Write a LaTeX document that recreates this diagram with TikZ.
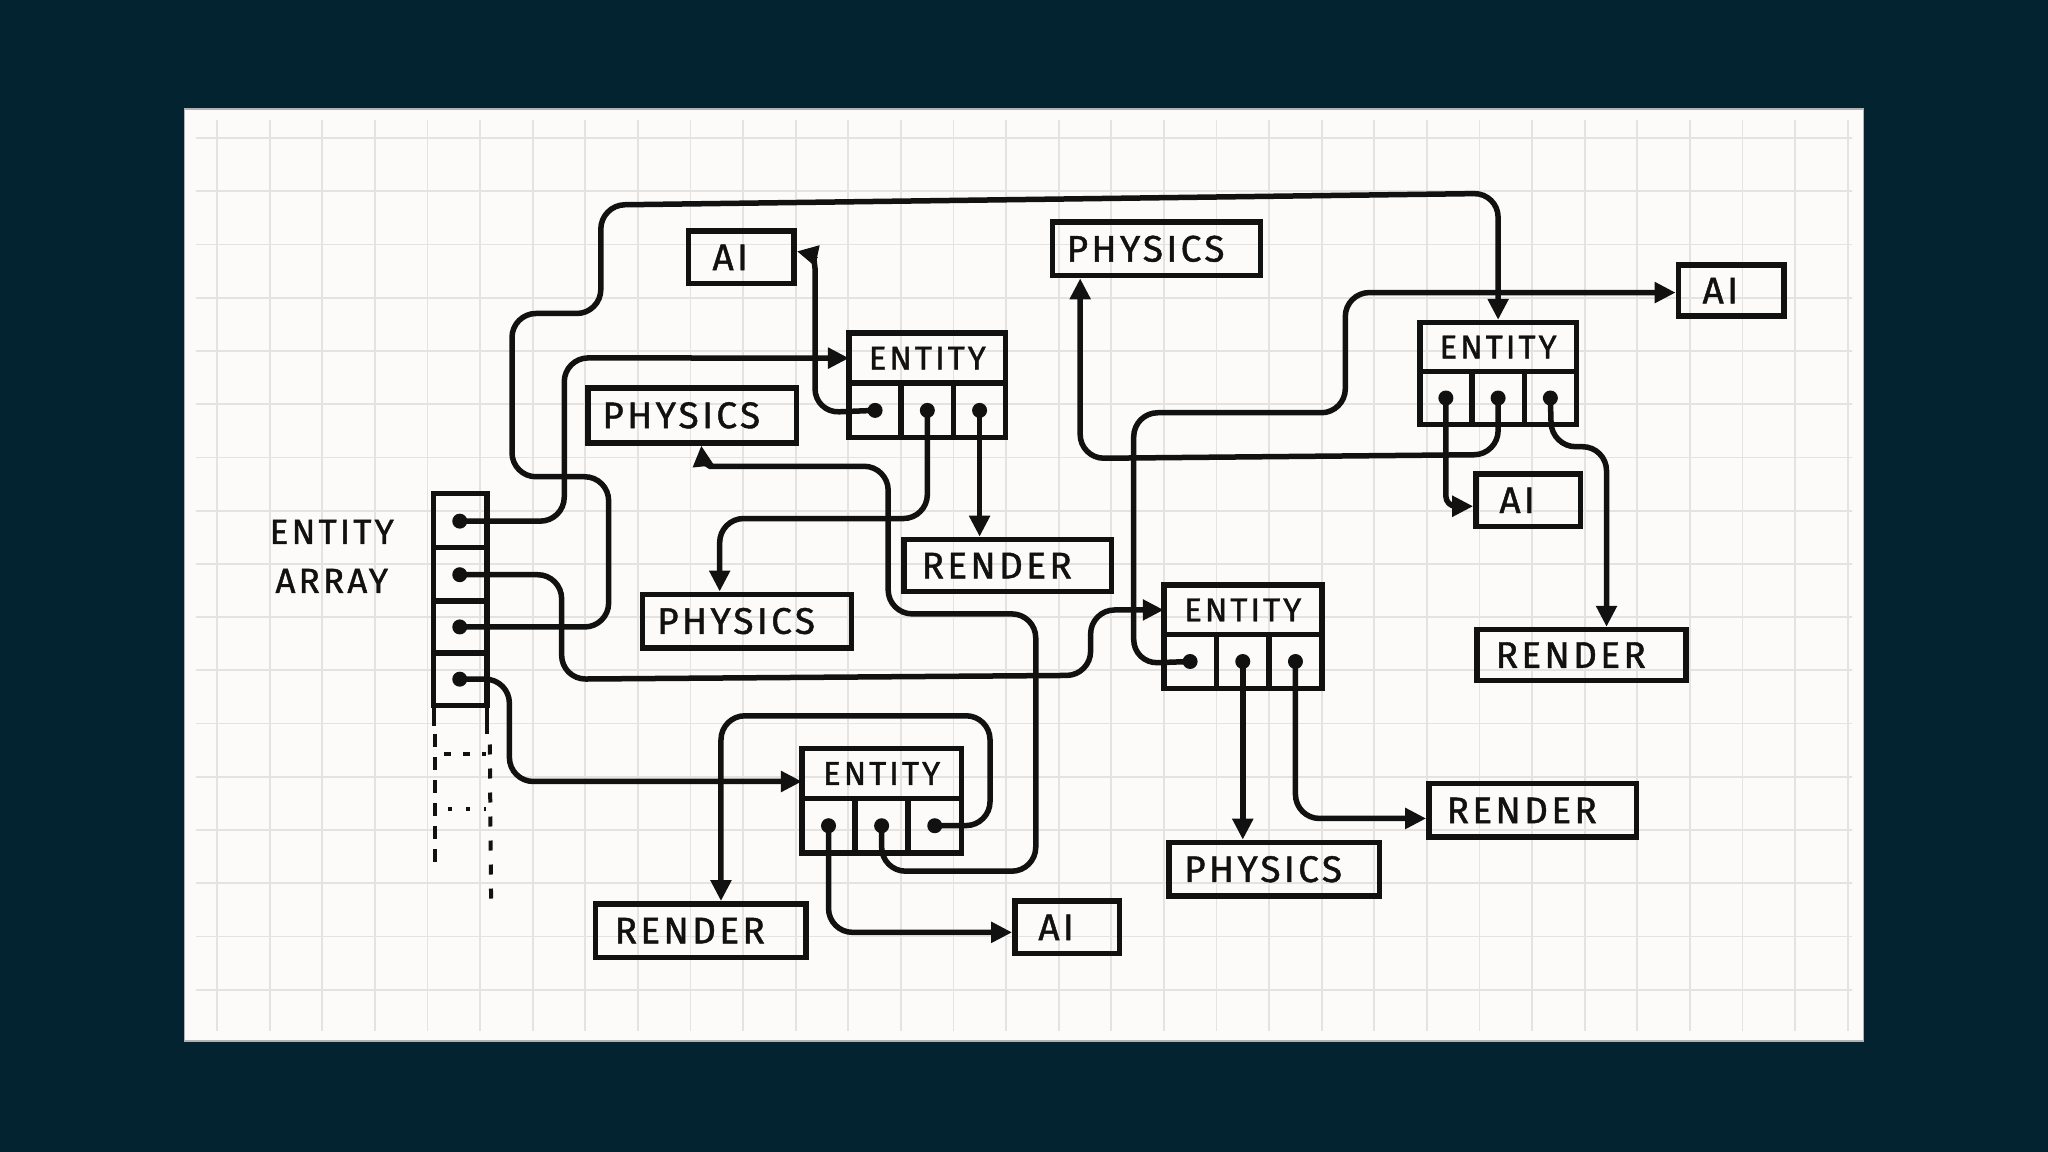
\documentclass[tikz,border=0pt]{standalone}
\usepackage{fontspec}
\newfontfamily\handfont{Fira Sans}[LetterSpace=9,FakeBold=1.2]
\usetikzlibrary{fit,calc,arrows.meta}
\definecolor{bgc}{HTML}{02232F}
\definecolor{paper}{HTML}{FCFBFA}
\definecolor{gridc}{HTML}{E5E2E2}
\definecolor{ink}{HTML}{111111}

\newcommand\labelbox[6]{%
  \node[boxline, inner sep=0pt, fit={(#2,#3)(#4,#5)}] (#1) {};
  \node[lbltext, xshift=-11pt] (#1t) at (#1.center) {#6};
}
\newcommand\entitybox[5]{%
  \node[boxline, inner sep=0pt, fit={(#2,#3)(#4,#5)}] (#1) {};
  \pgfmathsetmacro\ehy{#3+(#5-#3)*0.48}
  \pgfmathsetmacro\exa{#2+(#4-#2)/3}
  \pgfmathsetmacro\exb{#2+2*(#4-#2)/3}
  \pgfmathsetmacro\edy{(\ehy+#5)/2}
  \pgfmathsetmacro\ety{(#3+\ehy)/2}
  \draw[boxline] (#2,\ehy) -- (#4,\ehy) (\exa,\ehy) -- (\exa,#5) (\exb,\ehy) -- (\exb,#5);
  \node[etext] (#1t) at ({(#2+#4)/2},\ety) {ENTITY};
  \coordinate (#1in) at (#2,\ety);
  \node[dot] (#1a) at ({(#2+\exa)/2},\edy) {};
  \node[dot] (#1b) at ({(\exa+\exb)/2},\edy) {};
  \node[dot] (#1c) at ({(\exb+#4)/2},\edy) {};
}

\begin{document}
\begin{tikzpicture}[x=1.306pt,y=-1.306pt,
  boxline/.style={draw=ink, line width=5.5pt},
  lbltext/.style={font=\handfont\fontsize{37}{44}\selectfont, text=ink, inner sep=0pt},
  etext/.style={font=\handfont\fontsize{33}{40}\selectfont, text=ink, inner sep=0pt},
  dot/.style={circle, fill=ink, inner sep=0pt, minimum size=15pt},
  conn/.style={draw=ink, line width=5.5pt, rounded corners=24pt,
    -{Triangle[length=21pt,width=20pt]}},
  dashline/.style={draw=ink, line width=4pt},
]
\useasboundingbox (0,0) rectangle (1568,882);
\fill[bgc] (0,0) rectangle (1568,882);
\fill[paper] (141,83.5) rectangle (1426.5,797);
\draw[gray!60, line width=1.2pt] (141,83.5) rectangle (1426.5,797);
\begin{scope}
  \clip (150,92) rectangle (1418,789);
  \foreach \k in {-1,...,31} \draw[gridc, line width=1.8pt] ({166.2+40.27*\k},80) -- ({166.2+40.27*\k},800);
  \foreach \k in {-1,...,17} \draw[gridc, line width=1.8pt] (140,{105.7+40.75*\k}) -- (1430,{105.7+40.75*\k});
\end{scope}

% plain boxes
\labelbox{ai1}{527}{177}{608}{217}{AI}
\labelbox{phyT}{806}{170}{965}{211}{PHYSICS}
\labelbox{aiR}{1285}{203}{1366}{242}{AI}
\labelbox{p1}{450}{297}{610}{339}{PHYSICS}
\labelbox{ai2}{1130}{363}{1210}{403}{AI}
\labelbox{r1}{692}{413}{851}{453}{RENDER}
\labelbox{p2}{492}{455}{652}{496}{PHYSICS}
\labelbox{r2}{1131}{482}{1291}{521}{RENDER}
\labelbox{r3}{1094}{600}{1253}{641}{RENDER}
\labelbox{p3}{895}{645}{1056}{686}{PHYSICS}
\labelbox{r4}{456}{692}{617}{733}{RENDER}
\labelbox{ai4}{777}{690}{857}{730}{AI}

% entities
\entitybox{e1}{650}{255}{770}{335}
\entitybox{e2}{1087}{247}{1207}{325}
\entitybox{e3}{891}{448}{1012}{527}
\entitybox{e4}{614}{573}{736}{653}

% entity array
\node[boxline, inner sep=0pt, fit={(332,378)(373,540)}] (arr) {};
\draw[boxline] (332,419) -- (373,419) (332,460) -- (373,460) (332,500) -- (373,500);
\node[dot] (s1) at (352,399) {};
\node[dot] (s2) at (352,440) {};
\node[dot] (s3) at (352,480) {};
\node[dot] (s4) at (352,520) {};
\draw[dashline] (332,540) -- (332,556);
\draw[dashline] (373,540) -- (373,562);
\draw[dashline, dash pattern=on 13pt off 10pt] (333,562) -- (333,662);
\draw[dashline, dash pattern=on 10pt off 14pt] (375,570) -- (376,692);
\draw[dashline, dash pattern=on 7pt off 12pt] (340,577) -- (372,577);
\draw[dashline, dash pattern=on 4pt off 14pt] (343,619) -- (372,619);
\node[font=\handfont\fontsize{35}{49}\selectfont, text=ink, align=center, inner sep=0pt] (arrlbl) at (254,426) {ENTITY\\ARRAY};

% array -> entities
\draw[conn] (s1.center) -- (432,399) -- (432,274) -- (e1in);
\draw[conn] (s2.center) -- (430,440) -- (430,520) -- (835,517) -- (835,467) -- (e3in);
\draw[conn] (s3.center) -- (466,480) -- (466,365) -- (392,365) -- (392,240) -- (460,240) -- (460,157) -- (1147,148) -- (e2.north);
\draw[conn] (s4.center) -- (390,520) |- ([yshift=-8pt]e4in);

% entity 1
\draw[conn] (e1a.center) -- (624,316) -- (624,224) .. controls (624,204) and (622,195) .. ([yshift=6pt]ai1.east);
\draw[conn] (e1b.center) -- (710,397) -- (551,397) -- (551,397 |- p2.north);
\draw[conn] (e1c.center) -- (e1c.center |- r1.north);

% entity 2
\draw[conn, rounded corners=10pt] (e2a.center) |- ([yshift=-6pt]ai2.west);
\draw[conn] (e2b.center) -- (1147,348) -- (827,351) -- (827,351 |- phyT.south);
\draw[conn] (e2c.center) -- (1188,342) -- (1230,342) -- (1230,342 |- r2.north);

% entity 3
\draw[conn] (e3a.center) -- (868,508) -- (868,316) -- (1030,316) -- (1030,224) -- (1030,224 -| aiR.west);
\draw[conn] (e3b.center) -- (e3b.center |- p3.north);
\draw[conn] (e3c.center) |- ([yshift=-8pt]r3.west);

% entity 4
\draw[conn] (e4a.center) |- ([yshift=-5pt]ai4.west);
\draw[conn] (e4b.center) -- (675,667) -- (793,667) -- (793,470) -- (680,470) -- (680,357) -- (562,357) .. controls (543,357) and (538,352) .. ([xshift=9pt]p1.south);
\draw[conn] (e4c.center) -- (758,632) -- (758,548) -- (552,548) -- (552,548 |- r4.north);
\end{tikzpicture}
\end{document}
